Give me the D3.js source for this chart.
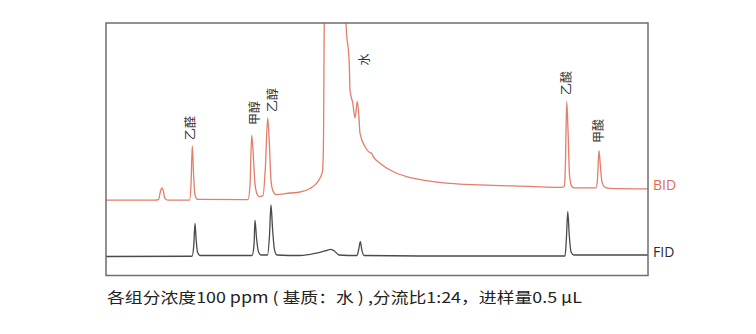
<!DOCTYPE html>
<html>
<head>
<meta charset="utf-8">
<script src="https://cdn.jsdelivr.net/npm/d3@7"></script>
<style>
    body { margin: 0; background: #fff; }
    svg { display: block; }
</style>
</head>
<body>
<svg width="756" height="334"></svg>
<script>
//Retention time (min) and signal (a.u.)
var bidTime = [0, 0.904, 0.969, 1.006, 1.028, 1.052, 1.089, 1.144, 1.541, 1.568, 1.592, 1.616, 1.642, 1.688,
    2.620, 2.657, 2.688, 2.712, 2.749, 2.786, 2.823, 2.897, 2.943, 2.983, 3.011, 3.044, 3.081, 3.137,
    3.395, 3.579, 3.764, 3.875, 3.948, 3.995, 4.013, 4.022, 4.031, 4.225, 4.419, 4.428, 4.489, 4.502,
    4.552, 4.594, 4.637, 4.664, 4.686, 4.779, 4.852, 4.898, 4.926, 5.055, 5.301, 5.548, 5.917, 6.347,
    6.900, 7.823, 8.413, 8.459, 8.478, 8.500, 8.524, 8.552, 8.589, 8.635, 9.041, 9.069, 9.096, 9.120,
    9.151, 9.207, 9.299, 10.0];
var bidSignal = [30.0, 30.0, 30.2, 33.6, 34.8, 34.0, 30.6, 30.0, 30.0, 36.0, 51.4, 39.9, 32.0, 30.3,
    30.2, 36.0, 55.7, 49.8, 36.4, 32.4, 31.4, 31.8, 43.9, 62.5, 53.8, 37.9, 33.6, 32.2,
    32.8, 33.2, 34.6, 36.4, 38.7, 41.5, 53.8, 85.4, 109.1, 150.0, 109.1, 100.0, 83.4, 73.5,
    68.4, 62.5, 69.0, 63.6, 56.5, 51.1, 49.0, 48.6, 47.4, 44.6, 41.2, 39.3, 37.7, 36.6,
    36.0, 35.4, 35.0, 35.6, 45.9, 68.9, 57.7, 39.9, 35.6, 34.8, 34.8, 38.7, 49.5, 43.9,
    37.2, 35.0, 34.6, 34.4];

//Same for the FID trace
var fidTime = [0, 1.587, 1.620, 1.642, 1.664, 1.688, 1.734, 2.694, 2.731, 2.749, 2.777, 2.814, 2.860,
    2.980, 3.017, 3.044, 3.072, 3.109, 3.155, 3.579, 3.856, 4.041, 4.151, 4.225, 4.299, 4.631, 4.668,
    4.692, 4.720, 4.760, 5.793, 7.269, 8.469, 8.493, 8.520, 8.547, 8.580, 8.635, 10.0];
var fidSignal = [7.7, 7.8, 12.3, 20.8, 14.2, 9.5, 8.1, 8.1, 12.3, 22.1, 15.0, 9.5, 8.3,
    8.3, 16.2, 28.1, 19.0, 10.3, 8.3, 8.1, 8.9, 9.9, 10.5, 9.7, 8.3, 8.1, 11.1,
    13.6, 10.3, 8.1, 7.9, 7.9, 7.9, 14.2, 25.4, 16.2, 9.5, 8.3, 8.3];

//Peak names and where their labels start
var peakNames = ["乙醛", "甲醇", "乙醇", "水", "乙酸", "甲酸"];
var labelTime = [1.559, 2.749, 3.081, 4.779, 8.506, 9.096];
var labelSignal = [53.8, 59.7, 64.8, 83.2, 71.5, 52.6];

var traceNames = ["BID", "FID"];
var caption = "各组分浓度100 ppm ( 基质：水 ) ,分流比1:24，进样量0.5 μL";

var svg = d3.select("svg"),
    margin = { top: 23, right: 108, bottom: 58, left: 106 },
    width = 542,
    height = 253;

var xScale = d3.scaleLinear() //time axis, no ticks drawn in the original
    .domain([0, 10])
    .range([0, width]);

var yScale = d3.scaleLinear()
    .domain([0, 100])
    .range([height, 0]);

var g = svg.append("g")
    .attr("transform", "translate(" + margin.left + "," + margin.top + ")");

g.append("clipPath") //water peak runs off the top
    .attr("id", "plotClip")
    .append("rect")
    .attr("width", width)
    .attr("height", height);

var line = d3.line()
    .x(function (d) { return xScale(d[0]); })
    .y(function (d) { return yScale(d[1]); })
    .curve(d3.curveMonotoneX);

var bid = d3.zip(bidTime, bidSignal),
    fid = d3.zip(fidTime, fidSignal);

var colors = { BID: "#e47d69", FID: "#4a4a4a" };

g.append("path")
    .datum(bid)
    .attr("clip-path", "url(#plotClip)")
    .attr("d", line)
    .style("fill", "none")
    .style("stroke", colors.BID)
    .style("stroke-width", 1.3);

g.append("path")
    .datum(fid)
    .attr("clip-path", "url(#plotClip)")
    .attr("d", line)
    .style("fill", "none")
    .style("stroke", colors.FID)
    .style("stroke-width", 1.3);

g.append("rect") //frame
    .attr("x", 0)
    .attr("y", 0)
    .attr("width", width)
    .attr("height", height - 0.5)
    .style("fill", "none")
    .style("stroke", "#6e6e6e")
    .style("stroke-width", 1.5);

//Rotated peak labels, reading bottom to top
g.selectAll(".peak")
    .data(peakNames)
    .enter().append("text")
    .attr("class", "peak")
    .attr("transform", function (d, i) {
        return "translate(" + xScale(labelTime[i]) + "," + yScale(labelSignal[i]) + ") rotate(-90)";
    })
    .attr("dy", "0.36em")
    .style("font-family", "'Noto Sans CJK SC', sans-serif")
    .style("font-size", "12px")
    .style("fill", "#333")
    .text(function (d) { return d; });

//Trace names on the right
var traceEnd = [bidSignal[bidSignal.length - 1], fidSignal[fidSignal.length - 1]];
g.selectAll(".trace")
    .data(traceNames)
    .enter().append("text")
    .attr("class", "trace")
    .attr("x", width + 5)
    .attr("y", function (d, i) { return yScale(traceEnd[i]) + 1.5; })
    .style("font-family", "'Open Sans', sans-serif")
    .style("font-size", "14px")
    .style("fill", function (d) { return d === "BID" ? "#df6b57" : "#2b2b2b"; })
    .text(function (d) { return d; });

svg.append("text") //caption under the chart
    .attr("x", 107)
    .attr("y", 303)
    .attr("textLength", 475)
    .attr("lengthAdjust", "spacingAndGlyphs")
    .style("font-family", "'Noto Sans CJK SC', sans-serif")
    .style("font-size", "15px")
    .style("fill", "#222")
    .text(caption);
</script>
</body>
</html>
